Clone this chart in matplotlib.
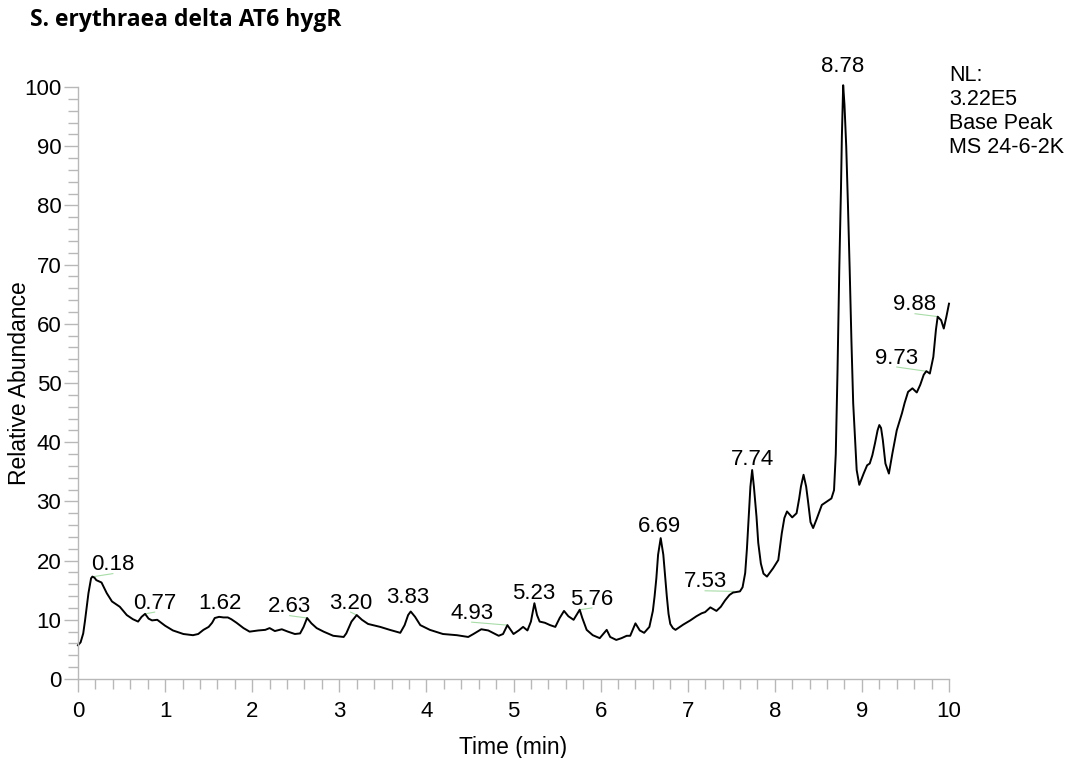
import matplotlib
matplotlib.use("Agg")
import matplotlib.pyplot as plt
from matplotlib.ticker import MultipleLocator

plt.rcParams['font.family'] = ['Liberation Sans', 'DejaVu Sans']

# chromatogram trace (time in min, relative abundance)
time = [0.00, 0.03, 0.06, 0.08, 0.10, 0.12, 0.14, 0.15, 0.165, 0.19, 0.21, 0.27, 0.33, 0.39,
        0.48, 0.56, 0.63, 0.69, 0.73, 0.77, 0.81, 0.85, 0.91, 1.00, 1.09, 1.21, 1.32, 1.38,
        1.44, 1.50, 1.54, 1.57, 1.62, 1.67, 1.72, 1.76, 1.82, 1.90, 1.97, 2.07, 2.15, 2.20,
        2.26, 2.34, 2.41, 2.49, 2.55, 2.59, 2.63, 2.68, 2.74, 2.82, 2.93, 3.05, 3.08, 3.14,
        3.20, 3.26, 3.33, 3.47, 3.58, 3.70, 3.75, 3.79, 3.82, 3.87, 3.93, 4.04, 4.19, 4.35,
        4.48, 4.54, 4.63, 4.71, 4.83, 4.88, 4.93, 5.00, 5.06, 5.11, 5.16, 5.20, 5.24, 5.27,
        5.30, 5.36, 5.42, 5.48, 5.53, 5.58, 5.63, 5.69, 5.76, 5.79, 5.84, 5.91, 5.99, 6.07,
        6.11, 6.18, 6.24, 6.30, 6.34, 6.40, 6.45, 6.50, 6.56, 6.60, 6.62, 6.64, 6.66, 6.69,
        6.72, 6.74, 6.76, 6.78, 6.80, 6.83, 6.86, 6.89, 6.95, 7.03, 7.10, 7.16, 7.20, 7.26,
        7.33, 7.38, 7.43, 7.48, 7.52, 7.60, 7.63, 7.66, 7.68, 7.70, 7.72, 7.74, 7.76, 7.79,
        7.81, 7.84, 7.87, 7.91, 7.98, 8.04, 8.08, 8.11, 8.14, 8.20, 8.25, 8.28, 8.30, 8.33,
        8.36, 8.38, 8.41, 8.44, 8.48, 8.54, 8.60, 8.65, 8.68, 8.70, 8.72, 8.74, 8.76, 8.77,
        8.785, 8.80, 8.82, 8.84, 8.86, 8.88, 8.90, 8.94, 8.97, 9.02, 9.06, 9.09, 9.12, 9.15,
        9.18, 9.20, 9.22, 9.24, 9.27, 9.31, 9.35, 9.40, 9.46, 9.49, 9.53, 9.58, 9.63, 9.67,
        9.71, 9.74, 9.78, 9.82, 9.85, 9.87, 9.91, 9.94, 9.97, 10.00]
abundance = [5.7, 6.2, 7.7, 9.8, 12.2, 14.5, 16.2, 17.0, 17.3, 17.1, 16.7, 16.3, 14.5, 13.1,
             12.2, 10.8, 10.1, 9.7, 10.5, 11.0, 10.2, 9.9, 10.0, 9.0, 8.2, 7.6, 7.4, 7.6,
             8.3, 8.8, 9.5, 10.3, 10.5, 10.4, 10.4, 10.1, 9.5, 8.6, 8.0, 8.2, 8.3, 8.6,
             8.1, 8.4, 8.0, 7.6, 7.7, 8.8, 10.3, 9.4, 8.6, 8.0, 7.3, 7.1, 7.7, 9.7,
             10.8, 10.0, 9.3, 8.8, 8.3, 7.8, 9.1, 10.8, 11.4, 10.5, 9.1, 8.3, 7.6, 7.4,
             7.1, 7.6, 8.4, 8.2, 7.3, 7.6, 9.1, 7.6, 8.2, 8.8, 8.2, 9.7, 12.8, 10.8,
             9.7, 9.5, 9.1, 8.8, 10.3, 11.5, 10.6, 10.0, 11.7, 10.3, 8.3, 7.4, 6.9, 8.3,
             7.1, 6.6, 6.9, 7.3, 7.3, 9.4, 8.2, 7.8, 8.8, 11.5, 14.0, 17.0, 21.0, 23.8,
             21.0, 17.5, 14.0, 11.0, 9.3, 8.6, 8.3, 8.6, 9.2, 9.9, 10.6, 11.1, 11.3, 12.1,
             11.5, 12.2, 13.3, 14.2, 14.6, 14.8, 15.5, 17.9, 22.0, 27.4, 32.5, 35.3, 32.5, 27.4,
             23.0, 19.5, 17.8, 17.3, 18.7, 20.1, 24.6, 27.2, 28.3, 27.3, 28.0, 30.5, 32.5, 34.5,
             32.5, 30.2, 26.5, 25.5, 27.0, 29.4, 30.0, 30.5, 31.9, 38.0, 52.0, 69.0, 83.0, 91.6,
             100.3, 97.0, 90.0, 80.0, 69.0, 57.0, 46.6, 35.3, 32.8, 34.7, 36.1, 36.4, 37.8, 39.8,
             42.0, 42.9, 42.4, 40.4, 36.4, 34.7, 38.1, 42.0, 44.9, 46.6, 48.5, 49.1, 48.4, 49.7,
             51.4, 52.0, 51.6, 54.4, 59.0, 61.2, 60.6, 59.2, 61.2, 63.4]

# peak labels: apex (time, value) and where the label text sits
peak_names = ['0.18', '0.77', '1.62', '2.63', '3.20', '3.83', '4.93', '5.23', '5.76',
              '6.69', '7.53', '7.74', '8.78', '9.73', '9.88']
peak_t = [0.18, 0.77, 1.62, 2.63, 3.20, 3.83, 4.93, 5.23, 5.76, 6.69, 7.53, 7.74, 8.78, 9.73, 9.88]
peak_v = [17.3, 11.0, 10.4, 10.3, 10.8, 11.4, 9.1, 12.8, 11.7, 23.8, 14.8, 35.3, 100.3, 52.0, 61.2]
label_t = [0.40, 0.88, 1.63, 2.43, 3.13, 3.79, 4.52, 5.23, 5.90, 6.68, 7.20, 7.74, 8.78, 9.40, 9.61]
label_v = [19.3, 12.8, 12.8, 12.2, 12.8, 13.7, 11.1, 14.5, 13.5, 25.8, 16.4, 37.1, 103.5, 54.2, 63.2]

info_lines = ['NL:', '3.22E5', 'Base Peak', 'MS 24-6-2K']

fig = plt.figure(figsize=(10.75, 7.58), dpi=100)
ax = fig.add_axes([78 / 1075, 1 - 679 / 758, (949 - 78) / 1075, (679 - 87) / 758])

grey = '#b8b8b8'
ax.plot(time, abundance, color='black', lw=1.4, clip_on=False, solid_joinstyle='round')

# light green tie lines then the labels
for name, pt, pv, lt, lv in zip(peak_names, peak_t, peak_v, label_t, label_v):
    if abs(lt - pt) > 0.05:
        ax.plot([lt, pt], [lv - 1.5, pv], color='#a8dca8', lw=0.8, clip_on=False, zorder=1)
    ax.text(lt, lv, name, ha='center', va='center', fontsize=16, clip_on=False)

for i, line in enumerate(info_lines):
    ax.text(10.0, 102.0 - i * 4.1, line, ha='left', va='center', fontsize=15.5, clip_on=False)

ax.set_xlim(0, 10)
ax.set_ylim(0, 100)
ax.xaxis.set_major_locator(MultipleLocator(1))
ax.xaxis.set_minor_locator(MultipleLocator(0.2))
ax.yaxis.set_major_locator(MultipleLocator(10))
ax.yaxis.set_minor_locator(MultipleLocator(2))

for s in ['top', 'right']:
    ax.spines[s].set_visible(False)
for s in ['left', 'bottom']:
    ax.spines[s].set_color(grey)
    ax.spines[s].set_linewidth(1.0)

ax.tick_params(axis='x', which='major', length=9, width=1, color=grey, pad=7, labelsize=16)
ax.tick_params(axis='x', which='minor', length=7, width=1, color=grey)
ax.tick_params(axis='y', which='major', length=10, width=1, color=grey, pad=2, labelsize=16)
ax.tick_params(axis='y', which='minor', length=7, width=1, color=grey)

ax.set_xlabel('Time (min)', fontsize=16.5, labelpad=10)
ax.set_ylabel('Relative Abundance', fontsize=16.5)
ax.yaxis.set_label_coords(-0.054, 0.5)

fig.text(30 / 1075, 1 - 20 / 758, 'S. erythraea delta AT6 hygR', ha='left', va='center',
         fontsize=16.5, fontweight='bold', family=['Open Sans', 'DejaVu Sans'])

fig.savefig('out.png', dpi=100)
